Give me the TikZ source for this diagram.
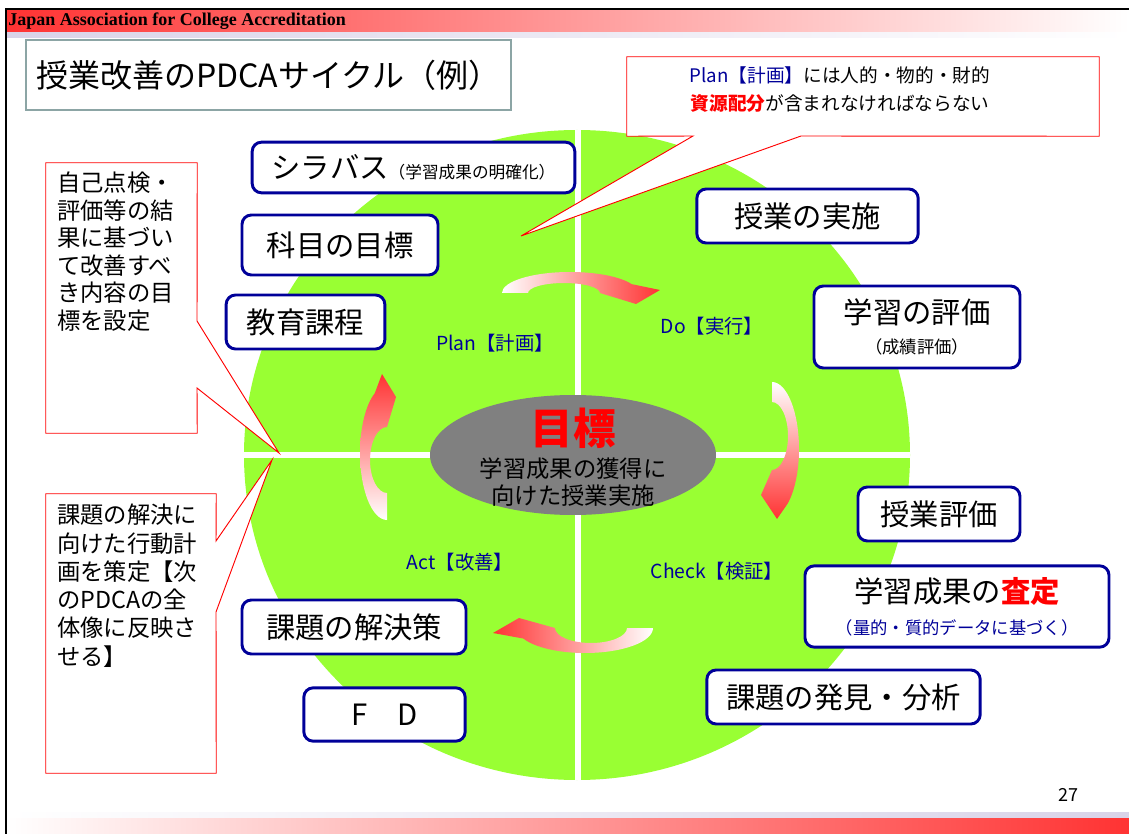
\documentclass[tikz,border=0pt]{standalone}
\usepackage{fontspec}
\setmainfont{Noto Sans CJK JP}
\newfontfamily\hdrfont{Liberation Serif}
\usetikzlibrary{shapes.geometric,calc}
\definecolor{navy}{HTML}{000099}
\definecolor{pgreen}{HTML}{99FF33}
\definecolor{ared}{HTML}{FF3333}
\definecolor{lav}{HTML}{D9D3E8}
\definecolor{tborder}{HTML}{8CA5A5}
\definecolor{goalgray}{HTML}{808080}
\begin{document}
\begin{tikzpicture}[x=0.75pt,y=-0.75pt,
  rbox/.style={draw=navy, line width=2.2pt, fill=white, rounded corners=7pt, inner sep=0pt, align=center, font=\fontsize{22}{26}\selectfont},
  lbl/.style={text=navy, font=\fontsize{14.5}{17}\selectfont, inner sep=0pt},
  callout/.style={draw=red, fill=white, line width=0.7pt},
  ctext/.style={font=\fontsize{17.5}{20.6}\selectfont, align=left, anchor=north west, inner sep=0pt},
  cframe/.style={draw=none, inner sep=0pt}
]
\useasboundingbox (0,0) rectangle (1129,834);
\fill[white] (0,0) rectangle (1129,834);

% header and footer bands
\shade[left color=ared, right color=white] (7,10) rectangle (1129,33);
\shade[left color=lav, right color=white] (7,33) rectangle (1129,38);
\shade[left color=white, right color=lav] (7,812) rectangle (1129,818);
\shade[left color=white, right color=ared] (7,818) rectangle (1129,834);
\draw[line width=2pt] (6,834) -- (6,9) -- (1129,9);
\node[anchor=west, inner sep=0pt, font=\hdrfont\bfseries\fontsize{13.5}{15}\selectfont] (hdr) at (8,21.5) {Japan Association for College Accreditation};

% title
\node[draw=tborder, line width=1.5pt, fill=white, minimum width=363.75pt, minimum height=52.5pt, inner sep=0pt, font=\fontsize{24}{28}\selectfont] (title) at (268.5,75) {授業改善のPDCAサイクル（例）};

% green circle with white cross
\fill[pgreen] (577,455) ellipse [x radius=333, y radius=325];
\begin{scope}
  \clip (577,455) ellipse [x radius=333, y radius=325];
  \draw[white, line width=3.8pt] (578,100) -- (578,800);
  \draw[white, line width=3.8pt] (230,455) -- (930,455);
\end{scope}

% central goal
\node[ellipse, fill=goalgray, minimum width=214.5pt, minimum height=90pt, inner sep=0pt] (goal) at (573,455) {};
\node[text=red, font=\fontsize{32}{34}\selectfont\bfseries, inner sep=0pt] (goalT) at (573,428) {目標};
\node[align=center, inner sep=0pt, font=\fontsize{17.5}{20.3}\selectfont] (goalS) at (573,482) {学習成果の獲得に\\向けた授業実施};

% curved gradient arrows
\shade[left color=white, right color=ared]
  (502,293) arc[start angle=180, end angle=335, x radius=68, y radius=21]
  -- (660,290) -- (636,304) -- (600,293)
  arc[start angle=360, end angle=180, x radius=36, y radius=10] -- cycle;
\shade[top color=white, bottom color=ared]
  (772,382) arc[start angle=-90, end angle=55, x radius=27, y radius=67]
  -- (777,519) -- (761,495) -- (772,470)
  arc[start angle=90, end angle=-90, x radius=16, y radius=34] -- cycle;
\shade[left color=ared, right color=white]
  (653,628) arc[start angle=0, end angle=155, x radius=68, y radius=25]
  -- (493,633) -- (519,618) -- (555,628)
  arc[start angle=180, end angle=0, x radius=36, y radius=15] -- cycle;
\shade[top color=ared, bottom color=white]
  (387,520) arc[start angle=90, end angle=243, x radius=27, y radius=67]
  -- (382,374) -- (396,397) -- (387,427)
  arc[start angle=270, end angle=90, x radius=17, y radius=33] -- cycle;

% phase labels
\node[lbl] (plan) at (495,343) {Plan【計画】};
\node[lbl] (do) at (712,326) {Do【実行】};
\node[lbl] (act) at (460,562) {Act【改善】};
\node[lbl] (check) at (717,571) {Check【検証】};

% boxes
\node[rbox, minimum width=242pt, minimum height=38pt] (syl) at (413.5,167.5) {シラバス{\fontsize{12.5}{14}\selectfont（学習成果の明確化）}};
\node[rbox, minimum width=147pt, minimum height=45pt] (kamoku) at (340,245) {科目の目標};
\node[rbox, minimum width=119pt, minimum height=40.5pt] (kyoiku) at (305.5,322) {教育課程};
\node[rbox, minimum width=166pt, minimum height=40.5pt] (jisshi) at (807.5,216) {授業の実施};
\node[rbox, minimum width=154.5pt, minimum height=61.5pt] (hyoka) at (917,327) {学習の評価\\[-3pt]{\fontsize{13}{15}\selectfont（成績評価）}};
\node[rbox, minimum width=121.5pt, minimum height=40.5pt] (jhyoka) at (939,514) {授業評価};
\node[rbox, minimum width=228pt, minimum height=61pt] (satei) at (957,606.5) {学習成果の{\bfseries\color{red}査定}\\[-2pt]{\color{navy}\fontsize{13}{15}\selectfont（量的・質的データに基づく）}};
\node[rbox, minimum width=205pt, minimum height=40.5pt] (hakken) at (843.5,697) {課題の発見・分析};
\node[rbox, minimum width=168pt, minimum height=40.5pt] (kaiketsu) at (354,627) {課題の解決策};
\node[rbox, minimum width=121pt, minimum height=40pt] (fd) at (384.5,714.5) {F　D};

% callouts
\node[cframe, minimum width=354pt, minimum height=59.25pt] (cA) at (863,96.5) {};
\coordinate (tipA) at (521,236);
\draw[callout] (cA.north west) -- (cA.north east) -- (cA.south east) -- (801,136) -- (tipA) -- (693,136) -- (cA.south west) -- cycle;
\node[align=center, inner sep=0pt, font=\fontsize{14}{21}\selectfont] (cAt) at (840,90) {{\color{navy}Plan【計画】}には人的・物的・財的\\{\bfseries\color{red}資源配分}が含まれなければならない};

\node[cframe, minimum width=113.25pt, minimum height=202.5pt] (cB) at (121.5,298) {};
\coordinate (tipB) at (279,453);
\draw[callout] (cB.north west) -- (cB.north east) -- (197,321) -- (tipB) -- (197,388) -- (cB.south east) -- (cB.south west) -- cycle;
\node[ctext] (cBt) at (57,172) {自己点検・\\評価等の結\\果に基づい\\て改善すべ\\き内容の目\\標を設定};

\node[cframe, minimum width=127.5pt, minimum height=209.25pt] (cC) at (131,633.5) {};
\coordinate (tipC) at (272,460);
\draw[callout] (cC.north west) -- (cC.north east) -- (216,541) -- (tipC) -- (216,612) -- (cC.south east) -- (cC.south west) -- cycle;
\node[ctext, font=\fontsize{17.5}{21.2}\selectfont] (cCt) at (57,504) {課題の解決に\\向けた行動計\\画を策定【次\\のPDCAの全\\体像に反映さ\\せる】};

% page number
\node[inner sep=0pt, font=\fontsize{13.5}{16}\selectfont] (pg) at (1068,795) {27};
\end{tikzpicture}
\end{document}
